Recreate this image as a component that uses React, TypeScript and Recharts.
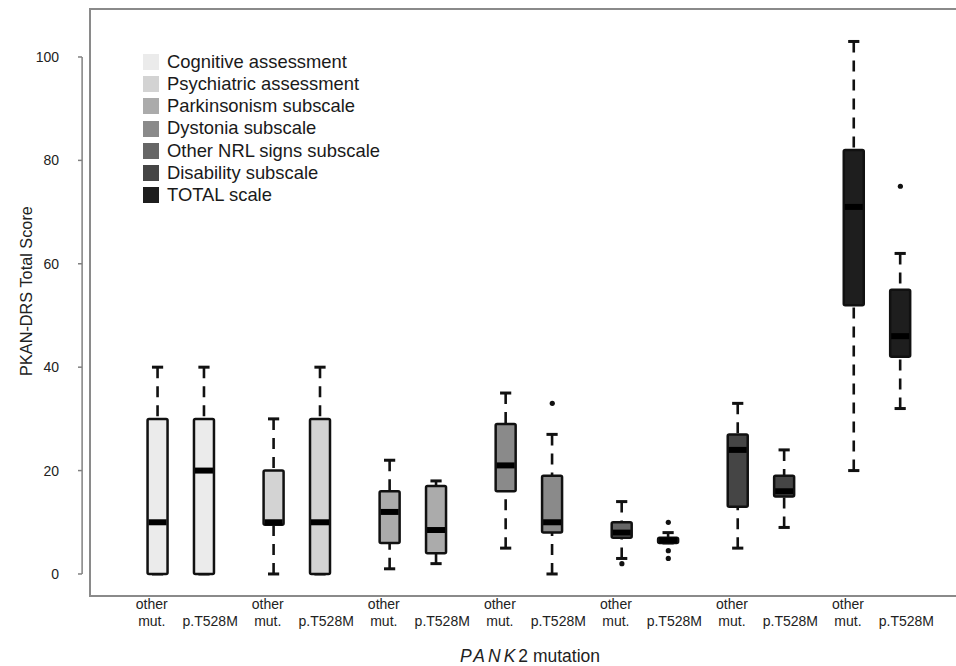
import React from 'react';
import {
  ComposedChart,
  Bar,
  Scatter,
  XAxis,
  YAxis,
  Legend,
  ReferenceArea,
  ReferenceLine,
} from 'recharts';

const FONT = '"Liberation Sans", Arial, Helvetica, sans-serif';

// subscales (legend order) and their box fills
const SUBSCALES = [
  'Cognitive assessment',
  'Psychiatric assessment',
  'Parkinsonism subscale',
  'Dystonia subscale',
  'Other NRL signs subscale',
  'Disability subscale',
  'TOTAL scale',
];
const SUBSCALE_FILLS = ['#ebebeb', '#d3d3d3', '#ababab', '#8a8a8a', '#666666', '#454545', '#1e1e1e'];
const MUTATIONS = ['other mut.', 'p.T528M'];

// one entry per box: other mut. / p.T528M for each subscale
const BOX_POS = [1, 2, 3.5, 4.5, 6, 7, 8.5, 9.5, 11, 12, 13.5, 14.5, 16, 17];
const WHISK_LO = [0, 0, 0, 0, 1, 2, 5, 0, 3, 6, 5, 9, 20, 32];
const Q1 = [0, 0, 9.5, 0, 6, 4, 16, 8, 7, 6, 13, 15, 52, 42];
const MEDIAN = [10, 20, 10, 10, 12, 8.5, 21, 10, 8, 6.5, 24, 16, 71, 46];
const Q3 = [30, 30, 20, 30, 16, 17, 29, 19, 10, 7, 27, 19, 82, 55];
const WHISK_HI = [40, 40, 30, 40, 22, 18, 35, 27, 14, 8, 33, 24, 103, 62];

const OUTLIER_POS = [9.5, 11, 12, 12, 12, 17];
const OUTLIER_VAL = [33, 2, 10, 4.5, 3, 75];

const Y_TICKS = [0, 20, 40, 60, 80, 100];
const Y_MIN = -4.26;
const Y_MAX = 109.28;
const X_MIN = -0.46;
const X_MAX = 18.5;
const Y_AXIS_X = -0.63; // R draws the axis a little left of the plot box

const boxData = BOX_POS.map((pos, i) => ({
  pos,
  lo: WHISK_LO[i],
  q1: Q1[i],
  median: MEDIAN[i],
  q3: Q3[i],
  hi: WHISK_HI[i],
  fill: SUBSCALE_FILLS[Math.floor(i / 2)],
}));

const outlierData = OUTLIER_POS.map((pos, i) => ({ pos, value: OUTLIER_VAL[i] }));

const BoxShape = (props: any) => {
  const { x, y, width, height, payload } = props;
  if (!payload) return null;
  const { lo, hi, q1, q3, median, fill } = payload;
  // value -> pixel, taken from the bar the library laid out for [lo, hi]
  const py = (v: number) => y + ((hi - v) / (hi - lo)) * height;
  const cx = x + width / 2;
  const half = width * 0.28;
  return (
    <g>
      <line x1={cx} x2={cx} y1={py(hi)} y2={py(q3)} stroke="#111" strokeWidth={2.6} strokeDasharray="11 8" />
      <line x1={cx} x2={cx} y1={py(lo)} y2={py(q1)} stroke="#111" strokeWidth={2.6} strokeDasharray="11 8" />
      <line x1={cx - half} x2={cx + half} y1={py(hi)} y2={py(hi)} stroke="#111" strokeWidth={3} />
      <line x1={cx - half} x2={cx + half} y1={py(lo)} y2={py(lo)} stroke="#111" strokeWidth={3} />
      <rect
        x={x}
        y={py(q3)}
        width={width}
        height={Math.max(py(q1) - py(q3), 0.5)}
        fill={fill}
        stroke="#111"
        strokeWidth={2.5}
        rx={1.5}
      />
      <line x1={x + 1} x2={x + width - 1} y1={py(median)} y2={py(median)} stroke="#000" strokeWidth={6} />
    </g>
  );
};

const YTick = ({ x, y, payload }: any) => (
  <g>
    <line x1={x - 12} x2={x - 8} y1={y} y2={y} stroke="#808080" strokeWidth={1.5} />
    <text x={x - 31} y={y} dy="0.36em" textAnchor="end" fontSize={14} fontFamily={FONT} fill="#222">
      {payload.value}
    </text>
  </g>
);

const XTick = ({ x, y, index }: any) => {
  const label = MUTATIONS[index % 2];
  if (index % 2 === 0) {
    const [a, b] = label.split(' ');
    return (
      <text x={x - 6} y={y} textAnchor="middle" fontSize={14} fontFamily={FONT} fill="#222">
        <tspan x={x - 6} dy={13}>{a}</tspan>
        <tspan x={x - 6} dy={17}>{b}</tspan>
      </text>
    );
  }
  return (
    <text x={x + 6} y={y + 30} textAnchor="middle" fontSize={14} fontFamily={FONT} fill="#222">
      {label}
    </text>
  );
};

const XTitle = (props: any) => {
  const vb = props.viewBox || { x: 90, y: 596, width: 880, height: 70 };
  return (
    <text x={vb.x + vb.width / 2} y={vb.y + 66} textAnchor="middle" fontSize={17.5} fontFamily={FONT} fill="#222">
      <tspan fontStyle="italic" letterSpacing={3}>PANK</tspan>
      <tspan>2 mutation</tspan>
    </text>
  );
};

const YTitle = (props: any) => {
  const vb = props.viewBox || { x: 0, y: 9, width: 90, height: 587 };
  const tx = vb.x + 32;
  const ty = vb.y + vb.height / 2 - 11.5;
  return (
    <text
      x={tx}
      y={ty}
      transform={`rotate(-90, ${tx}, ${ty})`}
      textAnchor="middle"
      fontSize={16.3}
      fontFamily={FONT}
      fill="#222"
    >
      PKAN-DRS Total Score
    </text>
  );
};

const LegendBox = () => (
  <div style={{ fontFamily: FONT, fontSize: 18.4, color: '#1a1a1a', lineHeight: 1 }}>
    {SUBSCALES.map((name, i) => (
      <div key={name} style={{ display: 'flex', alignItems: 'center', height: 22.2, whiteSpace: 'nowrap' }}>
        <span style={{ width: 16, height: 16, background: SUBSCALE_FILLS[i], marginRight: 8, flex: 'none' }} />
        <span>{name}</span>
      </div>
    ))}
  </div>
);

export default function App() {
  return (
    <div style={{ position: 'absolute', left: 0, top: 0, width: 956, height: 666, overflow: 'hidden', background: '#fff' }}>
      <ComposedChart
        width={976}
        height={666}
        data={boxData}
        margin={{ top: 9, right: 6, bottom: 0, left: 0 }}
        style={{ fontFamily: FONT }}
      >
        <XAxis
          type="number"
          dataKey="pos"
          domain={[X_MIN, X_MAX]}
          allowDataOverflow
          ticks={BOX_POS}
          interval={0}
          axisLine={false}
          tickLine={false}
          tickSize={0}
          tickMargin={0}
          height={70}
          tick={<XTick />}
          label={{ content: (p: any) => <XTitle {...p} /> }}
        />
        <YAxis
          type="number"
          domain={[Y_MIN, Y_MAX]}
          allowDataOverflow
          ticks={Y_TICKS}
          interval={0}
          axisLine={false}
          tickLine={false}
          tickSize={0}
          tickMargin={0}
          width={90}
          tick={<YTick />}
          label={{ content: (p: any) => <YTitle {...p} /> }}
        />
        <ReferenceArea
          x1={X_MIN}
          x2={X_MAX}
          y1={Y_MIN}
          y2={Y_MAX}
          fill="none"
          stroke="#8a8a8a"
          strokeWidth={2}
          ifOverflow="visible"
        />
        <ReferenceLine
          segment={[
            { x: Y_AXIS_X, y: Y_TICKS[0] },
            { x: Y_AXIS_X, y: Y_TICKS[Y_TICKS.length - 1] },
          ]}
          stroke="#808080"
          strokeWidth={1.5}
          ifOverflow="visible"
        />
        <Bar
          dataKey={(d: any) => [d.lo, d.hi]}
          barSize={20}
          shape={<BoxShape />}
          isAnimationActive={false}
        />
        <Scatter
          data={outlierData}
          dataKey="value"
          isAnimationActive={false}
          shape={(p: any) => <circle cx={p.cx} cy={p.cy} r={2.6} fill="#111" />}
        />
        <Legend
          layout="vertical"
          align="center"
          verticalAlign="middle"
          content={<LegendBox />}
          wrapperStyle={{ left: 143, top: 51, width: 'auto', height: 'auto' }}
        />
      </ComposedChart>
    </div>
  );
}
